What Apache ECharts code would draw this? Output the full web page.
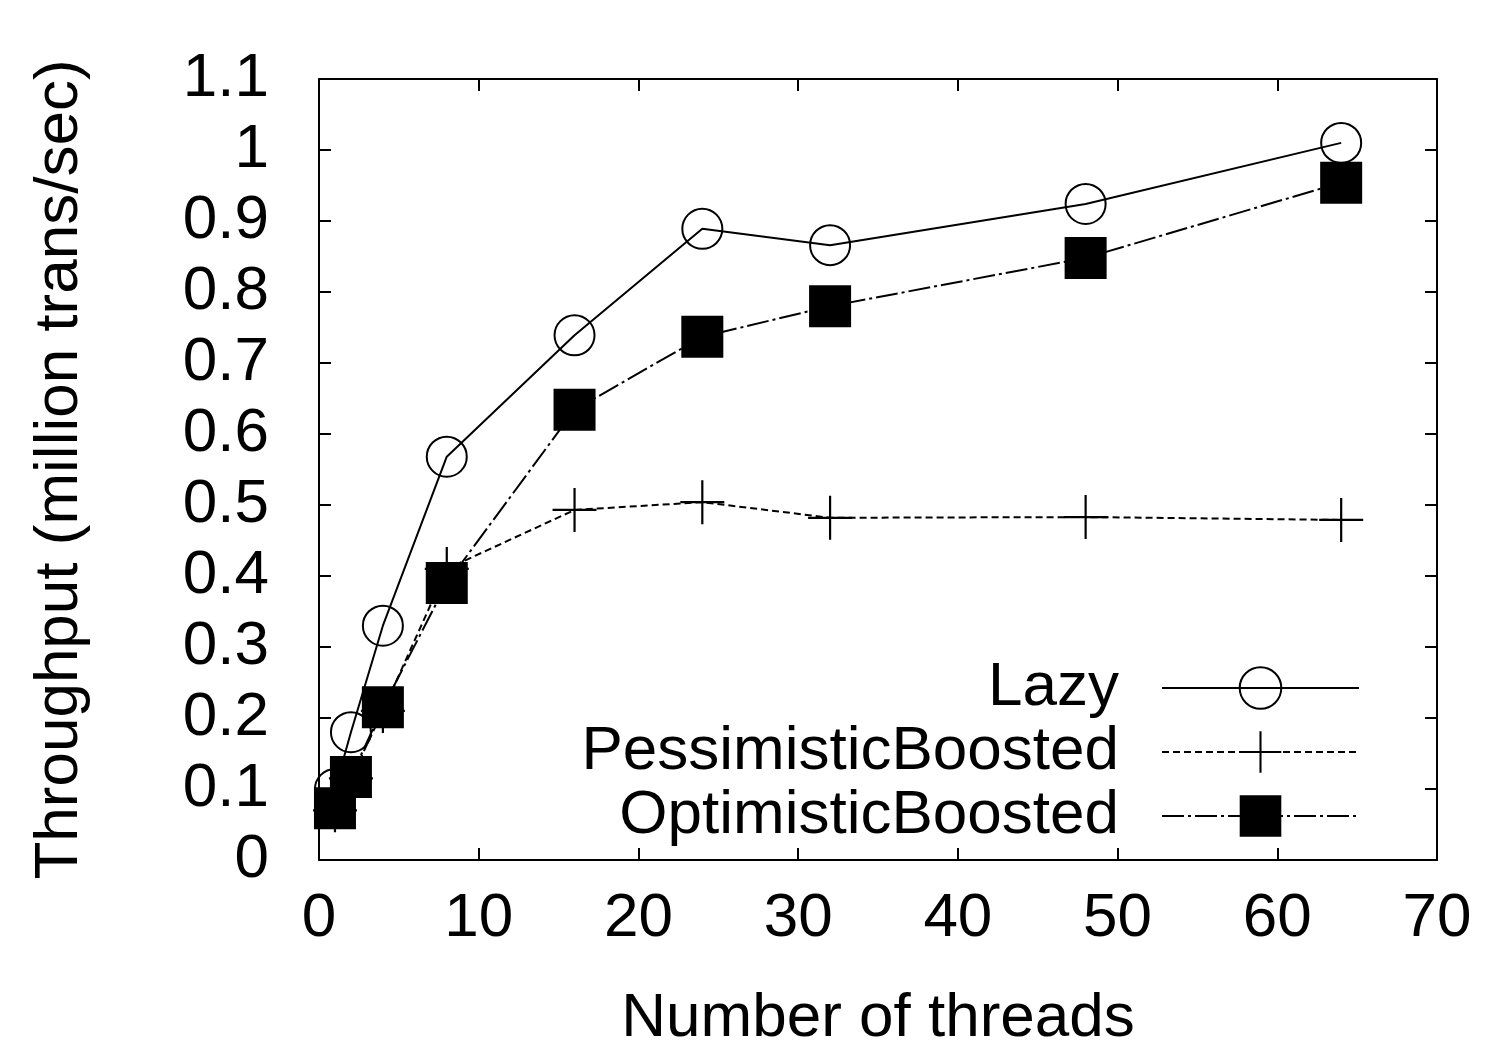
<!DOCTYPE html>
<html>
<head>
<meta charset="utf-8">
<script src="https://cdn.jsdelivr.net/npm/echarts@6/dist/echarts.min.js"></script>
<style>html,body{margin:0;padding:0;background:#fff}#c{width:1488px;height:1041px}</style>
</head>
<body>
<div id="c"></div>
<script>
const threads = [1, 2, 4, 8, 16, 24, 32, 48, 64];
const lazy = [0.10, 0.18, 0.33, 0.568, 0.739, 0.889, 0.866, 0.924, 1.01];
const pessimistic = [0.07, 0.115, 0.21, 0.41, 0.493, 0.504, 0.482, 0.483, 0.479];
const optimistic = [0.073, 0.117, 0.215, 0.39, 0.634, 0.737, 0.780, 0.848, 0.954];
const seriesNames = ['Lazy', 'PessimisticBoosted', 'OptimisticBoosted'];
const xTitle = 'Number of threads';
const yTitle = 'Throughput (million trans/sec)';

const FONT = 'Liberation Sans';
const FS = 62;
const pair = (ys) => threads.map((t, i) => [t, ys[i]]);
const plusPath = 'path://M47.5,0H52.5V47.5H100V52.5H52.5V100H47.5V52.5H0V47.5H47.5Z';

function axisBase(extra) {
  return Object.assign({
    axisLine: { show: true, onZero: false, lineStyle: { color: '#000', width: 2 } },
    axisTick: { show: true, inside: true, length: 12, lineStyle: { color: '#000', width: 2 } },
    splitLine: { show: false }
  }, extra);
}

const chart = echarts.init(document.getElementById('c'));
chart.setOption({
  animation: false,
  backgroundColor: '#fff',
  grid: { left: 319, right: 51, top: 79, bottom: 181, containLabel: false, outerBoundsMode: 'none' },
  xAxis: [
    axisBase({
      type: 'value', min: 0, max: 70, interval: 10, position: 'bottom',
      name: xTitle, nameLocation: 'middle', nameGap: 128,
      nameTextStyle: { fontFamily: FONT, fontSize: FS, color: '#000' },
      axisLabel: { fontFamily: FONT, fontSize: FS, color: '#000', margin: 28 }
    }),
    axisBase({
      type: 'value', min: 0, max: 70, interval: 10, position: 'top',
      axisLabel: { show: false }
    })
  ],
  yAxis: [
    axisBase({
      type: 'value', min: 0, max: 1.1, interval: 0.1, position: 'left',
      name: yTitle, nameLocation: 'middle', nameGap: 228, nameRotate: 90,
      nameTextStyle: { fontFamily: FONT, fontSize: FS, color: '#000' },
      axisLabel: {
        fontFamily: FONT, fontSize: FS, color: '#000', margin: 50,
        formatter: v => String(Math.round(v * 10) / 10)
      }
    }),
    axisBase({
      type: 'value', min: 0, max: 1.1, interval: 0.1, position: 'right',
      axisLabel: { show: false }
    })
  ],
  legend: {
    orient: 'vertical', right: 128, top: 656, align: 'right', padding: 0,
    itemWidth: 197, itemHeight: 52, itemGap: 0,
    textStyle: { fontFamily: FONT, fontSize: FS, color: '#000', lineHeight: 64, padding: [0, 38, 0, 0] },
    data: seriesNames
  },
  series: [
    {
      name: seriesNames[0], type: 'line', data: pair(lazy),
      symbol: 'circle', symbolSize: 40,
      lineStyle: { color: '#000', width: 2, type: 'solid' },
      itemStyle: { color: 'rgba(0,0,0,0)', borderColor: '#000', borderWidth: 2 }
    },
    {
      name: seriesNames[1], type: 'line', data: pair(pessimistic),
      symbol: plusPath, symbolSize: 44,
      lineStyle: { color: '#000', width: 2, type: [7, 4] },
      itemStyle: { color: '#000', borderWidth: 0 }
    },
    {
      name: seriesNames[2], type: 'line', data: pair(optimistic),
      symbol: 'rect', symbolSize: 42,
      lineStyle: { color: '#000', width: 2, type: [22, 4, 3, 4] },
      itemStyle: { color: '#000', borderWidth: 0 }
    }
  ]
});
</script>
</body>
</html>
